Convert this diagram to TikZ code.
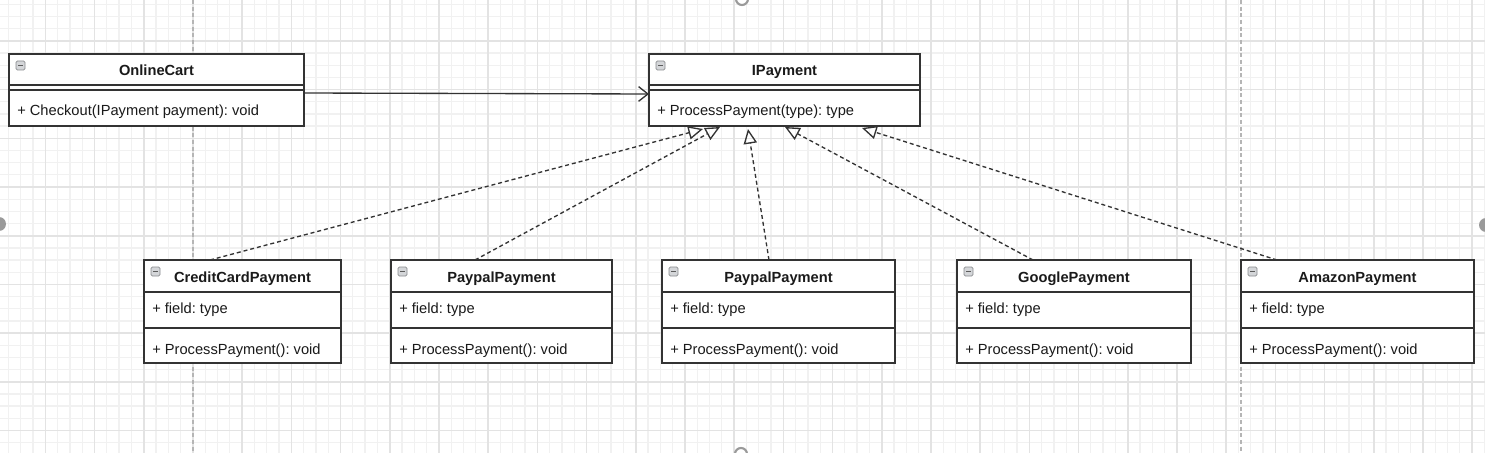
\documentclass[tikz,border=0pt]{standalone}
\usepackage{fontspec}
\setmainfont{Liberation Sans}
\usetikzlibrary{arrows.meta,calc}
\frenchspacing
\definecolor{linec}{HTML}{333333}
\definecolor{textc}{HTML}{1A1A1A}
\definecolor{minorg}{HTML}{F1F1F1}
\definecolor{majorg}{HTML}{E3E3E3}
\definecolor{pageb}{HTML}{B5B5B5}
\definecolor{iconfill}{HTML}{D4D6D9}
\definecolor{iconline}{HTML}{8A8C8F}
\definecolor{handle}{HTML}{9A9A9A}

\tikzset{
  classrect/.style={draw=linec, line width=1pt, fill=white, inner sep=0pt, outer sep=0pt, rectangle},
  classline/.style={draw=linec, line width=1pt},
  titletext/.style={inner sep=0pt, text=textc, font=\fontsize{11}{13}\selectfont\bfseries},
  bodytext/.style={inner sep=0pt, text=textc, font=\fontsize{11}{13}\selectfont},
  iconstyle/.style={draw=iconline, fill=iconfill, line width=0.5pt, rounded corners=1pt},
  assoc/.style={draw=linec, line width=1pt, -{Straight Barb[length=7pt,width=11pt,line width=1pt]}},
  realize/.style={draw=linec, line width=1pt, dash pattern=on 3pt off 2.2pt, -{Triangle[open,length=11pt,width=10pt,line width=1pt]}},
  minorline/.style={draw=minorg, line width=1pt},
  majorline/.style={draw=majorg, line width=1.2pt},
}

\newcommand{\classicon}[1]{%
  \draw[iconstyle] ($(#1.north west)+(7,7)$) rectangle ++(9,9);
  \draw[draw=linec!80, line width=0.7pt] ($(#1.north west)+(9,11.5)$) -- ++(5,0);
}
% name, x, width, title, method
\newcommand{\topclass}[5]{%
  \node[classrect, minimum width={#3*0.75pt}, minimum height={72*0.75pt}, anchor=north west] (#1) at (#2,54) {};
  \draw[classline] ($(#1.north west)+(0,31)$) -- ($(#1.north east)+(0,31)$);
  \draw[classline] ($(#1.north west)+(0,36)$) -- ($(#1.north east)+(0,36)$);
  \node[titletext, anchor=base] (#1-t) at ($(#1.north)+(0,22)$) {#4};
  \node[bodytext, anchor=base west] (#1-m) at ($(#1.north west)+(8,62)$) {#5};
  \classicon{#1}
}
% name, x, width, title
\newcommand{\subclass}[4]{%
  \node[classrect, minimum width={#3*0.75pt}, minimum height={103*0.75pt}, anchor=north west] (#1) at (#2,260) {};
  \draw[classline] ($(#1.north west)+(0,32)$) -- ($(#1.north east)+(0,32)$);
  \draw[classline] ($(#1.north west)+(0,68)$) -- ($(#1.north east)+(0,68)$);
  \node[titletext, anchor=base] (#1-t) at ($(#1.north)+(0,22)$) {#4};
  \node[bodytext, anchor=base west] (#1-f) at ($(#1.north west)+(8,53)$) {+ field: type};
  \node[bodytext, anchor=base west] (#1-m) at ($(#1.north west)+(8,94)$) {+ ProcessPayment(): void};
  \classicon{#1}
}

\begin{document}
\begin{tikzpicture}[x=0.75pt,y=-0.75pt]
\useasboundingbox (0,0) rectangle (1485,453);
\fill[white] (0,0) rectangle (1485,453);
\begin{scope}
  \clip (0,0) rectangle (1485,453);
  % minor grid
  \foreach \i in {0,...,122} \draw[minorline] ({-3.9+12.3*\i},0) -- ++(0,453);
  \foreach \j in {-1,...,38} \draw[minorline] (0,{4.375+12.175*\j}) -- ++(1485,0);
  % major grid
  \foreach \i in {0,...,31} \draw[majorline] ({-3.9+49.2*\i},0) -- ++(0,453);
  \foreach \j in {0,...,10} \draw[majorline] (0,{-7.8+48.7*\j}) -- ++(1485,0);
  % page breaks
  \draw[pageb, line width=0.8pt, dash pattern=on 3pt off 2pt] (193,0) -- (193,453);
  \draw[pageb, line width=0.8pt, dash pattern=on 3pt off 2pt] (1241,0) -- (1241,453);
  % view handles
  \draw[handle, line width=1.6pt, fill=white] (742,-1) circle[radius=6];
  \draw[handle, line width=1.6pt, fill=white] (741,454) circle[radius=6];
  \fill[handle] (-1,224) circle[radius=7];
  \fill[handle] (1486,225) circle[radius=7];
\end{scope}

% classes
\topclass{oc}{9}{295}{OnlineCart}{+ Checkout(IPayment payment): void}
\topclass{ip}{649}{271}{IPayment}{+ ProcessPayment(type): type}
\subclass{cc}{144}{197}{CreditCardPayment}
\subclass{pp1}{391}{221}{PaypalPayment}
\subclass{pp2}{662}{233}{PaypalPayment}
\subclass{gp}{957}{234}{GooglePayment}
\subclass{ap}{1241}{233}{AmazonPayment}

% connector end points
\coordinate (oc-r) at ($(oc.north east)+(0,39)$);
\coordinate (ip-l) at ($(ip.north west)+(0,40)$);
\coordinate (t1) at (703,129);
\coordinate (t2) at (720,127);
\coordinate (t3) at (748,129);
\coordinate (t4) at (785,127);
\coordinate (t5) at (862,128);
\coordinate (cc-s) at ($(cc.north west)+(66,0)$);
\coordinate (pp1-s) at ($(pp1.north west)+(84,0)$);
\coordinate (pp2-s) at ($(pp2.north west)+(107,0)$);
\coordinate (gp-s) at ($(gp.north west)+(76,0)$);
\coordinate (ap-s) at ($(ap.north west)+(36,0)$);

\draw[assoc] (oc-r) -- (ip-l);
\draw[realize] (cc-s) -- (t1);
\draw[realize] (pp1-s) -- (t2);
\draw[realize] (pp2-s) -- (t3);
\draw[realize] (gp-s) -- (t4);
\draw[realize] (ap-s) -- (t5);
\end{tikzpicture}
\end{document}
